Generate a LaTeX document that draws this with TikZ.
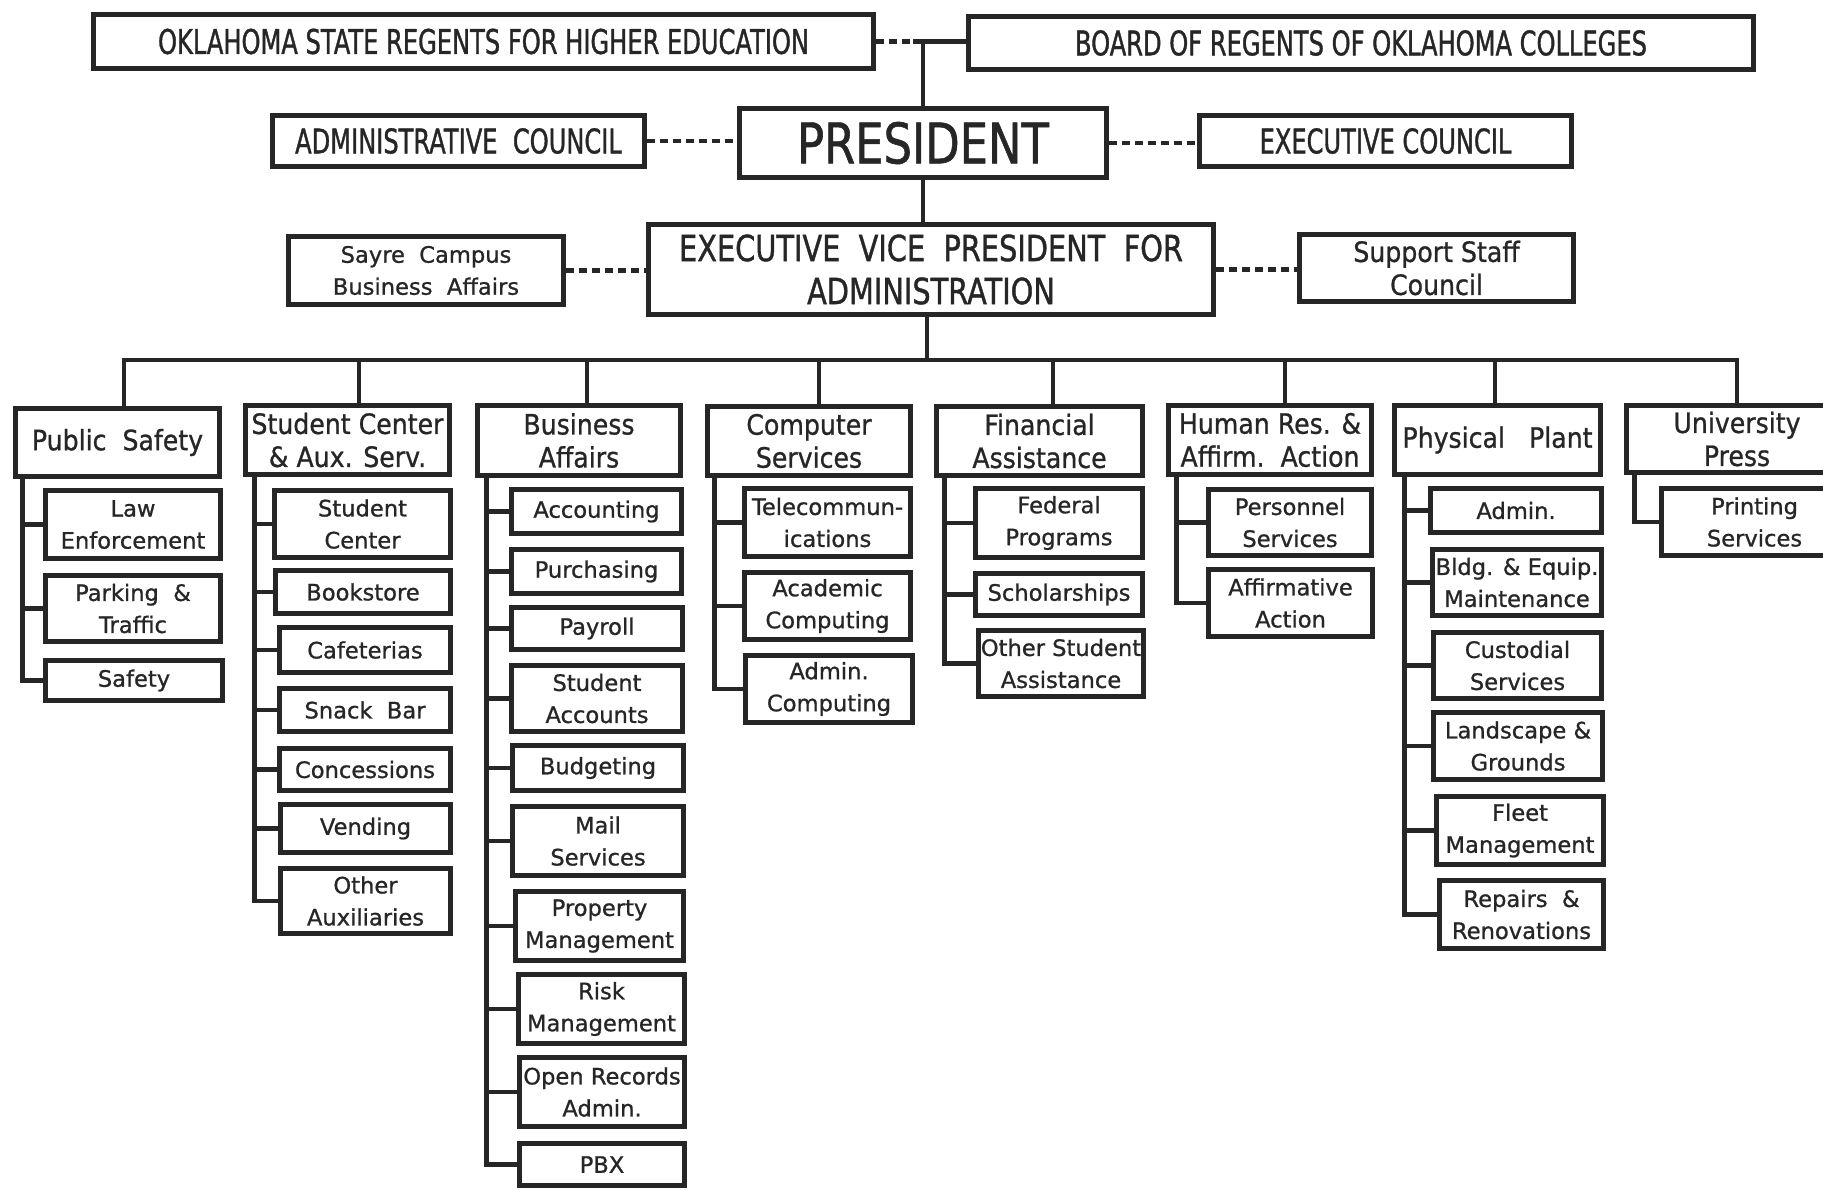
\documentclass[tikz,border=0pt]{standalone}
\usepackage{fontspec}
\setmainfont{DejaVu Sans}
\newfontfamily\subfont[FakeBold=0.9]{DejaVu Sans}
\newfontfamily\capsfont[FakeStretch=0.71,FakeBold=1]{DejaVu Sans}
\newfontfamily\wcapsfont[FakeStretch=0.8,FakeBold=1]{DejaVu Sans}
\newfontfamily\headfont[FakeStretch=0.9,FakeBold=0.9]{DejaVu Sans}
\definecolor{ink}{HTML}{262626}
\tikzset{
  box/.style={draw=ink, line width=2.4pt, fill=white, inner sep=0pt, align=center, text=ink},
  sub/.style={box, font=\subfont\fontsize{11.3}{16}\selectfont},
  head/.style={box, font=\headfont\fontsize{14}{16.5}\selectfont},
  capsb/.style={box, font=\capsfont\fontsize{17}{20}\selectfont},
  presb/.style={box, font=\wcapsfont\fontsize{28}{30}\selectfont},
  evpb/.style={box, font=\wcapsfont\fontsize{18}{21.5}\selectfont},
  link/.style={draw=ink, line width=2.4pt},
  dotlink/.style={draw=ink, line width=2.4pt, dash pattern=on 4pt off 2.5pt},
}
% #1 style, #2 name, #3 x1, #4 y1, #5 x2, #6 y2, #7 text  (pixel coordinates)
\newcommand\bx[7][sub]{\node[#1,minimum width={(#5-#3-5)*0.5pt},minimum height={(#6-#4-5)*0.5pt}] (#2) at ({(#3+#5)/2},{(#4+#6)/2}) {#7};}
\newcommand\kids[3]{\foreach \k in {#3}{\draw[link] ([xshift=#2]#1.south west) |- (\k.west);}}
\begin{document}
\begin{tikzpicture}[x=0.5pt,y=-0.5pt]
\useasboundingbox (0,0) rectangle (1823,1189);
\clip (0,0) rectangle (1823,1189);
\fill[white] (0,0) rectangle (1823,1189);

% ---- upper levels
\bx[capsb]{osrhe}{91}{12}{876}{71}{OKLAHOMA STATE REGENTS FOR HIGHER EDUCATION}
\bx[capsb]{board}{966}{14}{1756}{72}{BOARD OF REGENTS OF OKLAHOMA COLLEGES}
\bx[capsb]{admin}{270}{113}{647}{169}{ADMINISTRATIVE\ \ COUNCIL}
\bx[presb]{pres}{737}{106}{1109}{180}{PRESIDENT}
\bx[capsb]{exec}{1197}{113}{1574}{169}{EXECUTIVE COUNCIL}
\bx[evpb]{evp}{646}{222}{1216}{317}{EXECUTIVE\ \ VICE\ \ PRESIDENT\ \ FOR\\ADMINISTRATION}
\bx[sub]{sayre}{286}{234}{566}{307}{Sayre\ \ Campus\\Business\ \ Affairs}
\bx[head]{staff}{1297}{232}{1576}{304}{Support Staff\\Council}

% ---- departments
\bx[head]{ps}{13}{406}{222}{479}{Public\ \ Safety}
\bx[head]{sc}{243}{403}{452}{477}{Student Center\\\& Aux. Serv.}
\bx[head]{ba}{475}{403}{683}{478}{Business\\Affairs}
\bx[head]{cs}{705}{404}{913}{478}{Computer\\Services}
\bx[head]{fa}{934}{404}{1145}{478}{Financial\\Assistance}
\bx[head]{hr}{1166}{403}{1374}{477}{Human Res. \&\\Affirm.\ \ Action}
\bx[head]{pp}{1392}{403}{1603}{477}{Physical\ \ \ Plant}
\bx[head]{up}{1624}{403}{1850}{475}{University\\Press}

% ---- Public Safety
\bx{law}{43}{488}{223}{561}{Law\\Enforcement}
\bx{park}{43}{573}{223}{644}{Parking\ \ \&\\Traffic}
\bx{saf}{43}{658}{225}{703}{Safety}
% ---- Student Center
\bx{scs}{272}{488}{453}{560}{Student\\Center}
\bx{book}{273}{568}{453}{616}{Bookstore}
\bx{caf}{277}{625}{453}{675}{Cafeterias}
\bx{snack}{277}{686}{453}{734}{Snack\ \ Bar}
\bx{conc}{277}{746}{453}{793}{Concessions}
\bx{vend}{278}{802}{453}{855}{Vending}
\bx{oaux}{278}{866}{453}{936}{Other\\Auxiliaries}
% ---- Business Affairs
\bx{acct}{509}{487}{684}{536}{Accounting}
\bx{purch}{509}{547}{684}{596}{Purchasing}
\bx{pay}{509}{605}{685}{652}{Payroll}
\bx{stacc}{509}{663}{685}{734}{Student\\Accounts}
\bx{budg}{510}{743}{686}{793}{Budgeting}
\bx{mail}{510}{804}{686}{878}{Mail\\Services}
\bx{prop}{513}{889}{686}{963}{Property\\Management}
\bx{risk}{516}{972}{687}{1046}{Risk\\Management}
\bx{open}{517}{1055}{687}{1129}{Open Records\\Admin.}
\bx{pbx}{517}{1141}{687}{1188}{PBX}
% ---- Computer Services
\bx{tele}{742}{486}{913}{559}{Telecommun-\\ications}
\bx{acad}{742}{570}{913}{642}{Academic\\Computing}
\bx{admc}{743}{653}{915}{725}{Admin.\\Computing}
% ---- Financial Assistance
\bx{fed}{973}{486}{1145}{560}{Federal\\Programs}
\bx{schol}{973}{571}{1145}{618}{Scholarships}
\bx{osa}{976}{628}{1146}{699}{Other Student\\Assistance}
% ---- Human Resources
\bx{pers}{1206}{487}{1374}{558}{Personnel\\Services}
\bx{aff}{1206}{567}{1375}{639}{Affirmative\\Action}
% ---- Physical Plant
\bx{padm}{1428}{486}{1604}{535}{Admin.}
\bx{bldg}{1430}{547}{1604}{618}{Bldg. \& Equip.\\Maintenance}
\bx{cust}{1431}{630}{1604}{701}{Custodial\\Services}
\bx{land}{1431}{710}{1605}{782}{Landscape \&\\Grounds}
\bx{fleet}{1434}{794}{1606}{867}{Fleet\\Management}
\bx{rep}{1437}{878}{1606}{951}{Repairs\ \ \&\\Renovations}
% ---- University Press
\bx{print}{1659}{486}{1850}{558}{Printing\\Services}

% ---- connectors, top
\draw[dotlink] (osrhe.east) -- ([xshift=-5pt]osrhe.east -| pres.north);
\draw[link] ([xshift=-5pt]osrhe.east -| pres.north) -- (osrhe.east -| board.west);
\draw[link] (pres.north) -- (pres.north |- osrhe.east);
\draw[dotlink] (admin.east) -- (admin.east -| pres.west);
\draw[dotlink] (pres.east) -- (pres.east -| exec.west);
\draw[link] (pres.south) -- (pres.south |- evp.north);
\draw[dotlink] (sayre.east) -- (sayre.east -| evp.west);
\draw[dotlink] (evp.east) -- (evp.east -| staff.west);

% ---- bus
\coordinate (bus) at (927,360);
\draw[link] ([xshift=-2pt]evp.south) -- (bus);
\foreach \t/\s in {ps/3.25pt, sc/5.75pt, ba/4pt, cs/5pt, fa/6.75pt, hr/7.5pt, pp/-1.25pt, up/0pt}
  {\draw[link] ([xshift=\s]\t.north) |- (bus);}

% ---- spines
\kids{ps}{4.5pt}{law,park,saf}
\kids{sc}{5.75pt}{scs,book,caf,snack,conc,vend,oaux}
\kids{ba}{5.5pt}{acct,purch,pay,stacc,budg,mail,prop,risk,open,pbx}
\kids{cs}{4.75pt}{tele,acad,admc}
\kids{fa}{5.25pt}{fed,schol,osa}
\kids{hr}{5.25pt}{pers,aff}
\kids{pp}{6.25pt}{padm,bldg,cust,land,fleet,rep}
\kids{up}{5.25pt}{print}
\end{tikzpicture}
\end{document}
